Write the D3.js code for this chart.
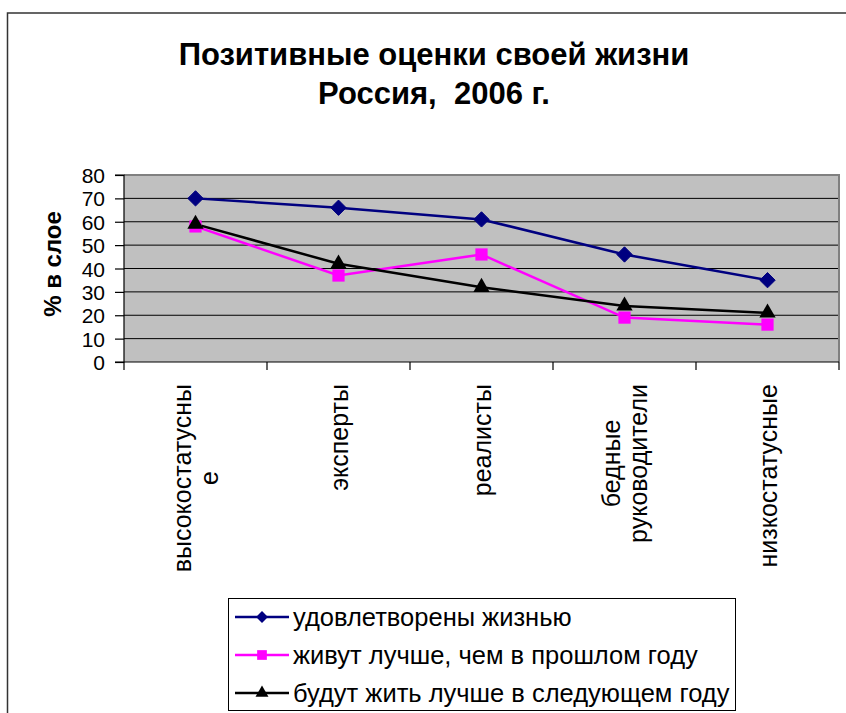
<!DOCTYPE html>
<html><head><meta charset="utf-8">
<script src="https://cdn.jsdelivr.net/npm/d3@7/dist/d3.min.js"></script>
<style>
body{margin:0;background:#fff;}
svg{display:block;font-family:Arial,"Liberation Sans",sans-serif;}
</style></head>
<body><svg id="c" width="846" height="713"></svg>
<script>
const titleLines = ["Позитивные оценки своей жизни", "Россия,  2006 г."];
const categories = ["высокостатусны\nе", "эксперты", "реалисты", "бедные\nруководители", "низкостатусные"];
const seriesNames = ["удовлетворены жизнью", "живут лучше, чем в прошлом году", "будут жить лучше в следующем году"];
const satisfied = [70, 66, 61, 46, 35];
const betterThanLastYear = [58, 37, 46, 19, 16];
const betterNextYear = [59, 42, 32, 24, 21];
const yTicks = [0, 10, 20, 30, 40, 50, 60, 70, 80];
const yTitle = "% в слое";

const colors = ["#000080", "#FF00FF", "#000000"];
const symbols = [d3.symbolDiamond2, d3.symbolSquare2, d3.symbolTriangle2];
const series = [satisfied, betterThanLastYear, betterNextYear];

const svg = d3.select("#c");
// outer border
svg.append("rect").attr("x", 7.5).attr("y", 13).attr("width", 900).attr("height", 800)
  .attr("fill", "#fff").attr("stroke", "#333").attr("stroke-width", 1.5);

// title
[65, 104].forEach((yy, i) => {
  svg.append("text").attr("x", 434).attr("y", yy).attr("text-anchor", "middle")
    .attr("font-size", 31).attr("font-weight", "bold").style("white-space", "pre")
    .attr("fill", "#000").text(titleLines[i]);
});

const L = 124, R = 839, T = 175, B = 362;
const x = d3.scaleBand().domain(categories).range([L, R]);
const y = d3.scaleLinear().domain([0, 80]).range([B, T]);

// plot area
svg.append("rect").attr("x", L).attr("y", T).attr("width", R - L).attr("height", B - T).attr("fill", "#C0C0C0");
// gridlines
svg.append("g").selectAll("line").data(yTicks.filter(d => d > 0 && d < 80)).join("line")
  .attr("x1", L).attr("x2", R).attr("y1", d => y(d)).attr("y2", d => y(d))
  .attr("stroke", "#000").attr("stroke-width", 1);
// top & right border
svg.append("path").attr("d", `M${L},${T}H${R}V${B}`).attr("fill", "none")
  .attr("stroke", "#808080").attr("stroke-width", 2);

// y axis
const yAxis = d3.axisLeft(y).tickValues(yTicks).tickSize(9).tickPadding(10).tickFormat(d3.format("d"));
const gy = svg.append("g").attr("transform", `translate(${L},0)`).call(yAxis);
gy.select(".domain").attr("stroke", "#000").attr("stroke-width", 1.2).attr("d", `M-9,${T}H0V${B}H-9`);
gy.selectAll(".tick line").attr("stroke", "#000").attr("stroke-width", 1.2);
gy.selectAll(".tick text").attr("font-size", 21).attr("font-family", "Arial,'Liberation Sans',sans-serif")
  .attr("fill", "#000").attr("dy", "0.36em");

// x axis
const gx = svg.append("g").attr("transform", `translate(0,${B})`);
gx.append("line").attr("x1", L).attr("x2", R).attr("stroke", "#000").attr("stroke-width", 1.2);
const bounds = categories.map(c => x(c)).concat([R]);
gx.selectAll("line.tk").data(bounds).join("line").attr("class", "tk")
  .attr("x1", d => d).attr("x2", d => d).attr("y1", 0).attr("y2", 8)
  .attr("stroke", "#000").attr("stroke-width", 1.2);

// category labels
const labelTop = 384, lineGap = 27;
categories.forEach(c => {
  const lines = c.split("\n");
  const cx = x(c) + x.bandwidth() / 2;
  const g = svg.append("g").attr("transform", `translate(${cx},${labelTop}) rotate(-90)`);
  const texts = lines.map((ln, i) => g.append("text").attr("font-size", 25).attr("fill", "#000")
    .attr("text-anchor", "middle").attr("dominant-baseline", "central")
    .attr("y", (i - (lines.length - 1) / 2) * lineGap).text(ln));
  const maxLen = d3.max(texts, t => t.node().getComputedTextLength());
  texts.forEach(t => t.attr("x", -maxLen / 2));
});

// y title
svg.append("text").attr("transform", `translate(52,264) rotate(-90)`)
  .attr("text-anchor", "middle").attr("dominant-baseline", "central")
  .attr("font-size", 24).attr("font-weight", "bold").text(yTitle);

// lines and markers
const markerSizes = [150, 190, 190];
series.forEach((vals, si) => {
  const line = d3.line().x((d, i) => x(categories[i]) + x.bandwidth() / 2).y(d => y(d));
  svg.append("path").datum(vals).attr("d", line).attr("fill", "none")
    .attr("stroke", colors[si]).attr("stroke-width", 2.5);
});
series.forEach((vals, si) => {
  svg.append("g").selectAll("path").data(vals).join("path")
    .attr("transform", (d, i) => `translate(${x(categories[i]) + x.bandwidth() / 2},${y(d)})`)
    .attr("d", d3.symbol(symbols[si], markerSizes[si])())
    .attr("fill", colors[si]).attr("stroke", colors[si]).attr("stroke-width", si === 0 ? 1 : 0);
});

// legend
svg.append("rect").attr("x", 228.5).attr("y", 598.5).attr("width", 507).attr("height", 112)
  .attr("fill", "#fff").attr("stroke", "#000").attr("stroke-width", 1);
const rowsY = [617, 655, 693];
const legendSizes = [90, 120, 120];
seriesNames.forEach((n, i) => {
  const g = svg.append("g").attr("transform", `translate(0,${rowsY[i]})`);
  g.append("line").attr("x1", 235).attr("x2", 289).attr("stroke", colors[i]).attr("stroke-width", 2.5);
  g.append("path").attr("transform", "translate(262,0)").attr("d", d3.symbol(symbols[i], legendSizes[i])()).attr("fill", colors[i]);
  g.append("text").attr("x", 293).attr("font-size", 25.5).attr("dominant-baseline", "central").attr("fill", "#000").text(n);
});
</script></body></html>
